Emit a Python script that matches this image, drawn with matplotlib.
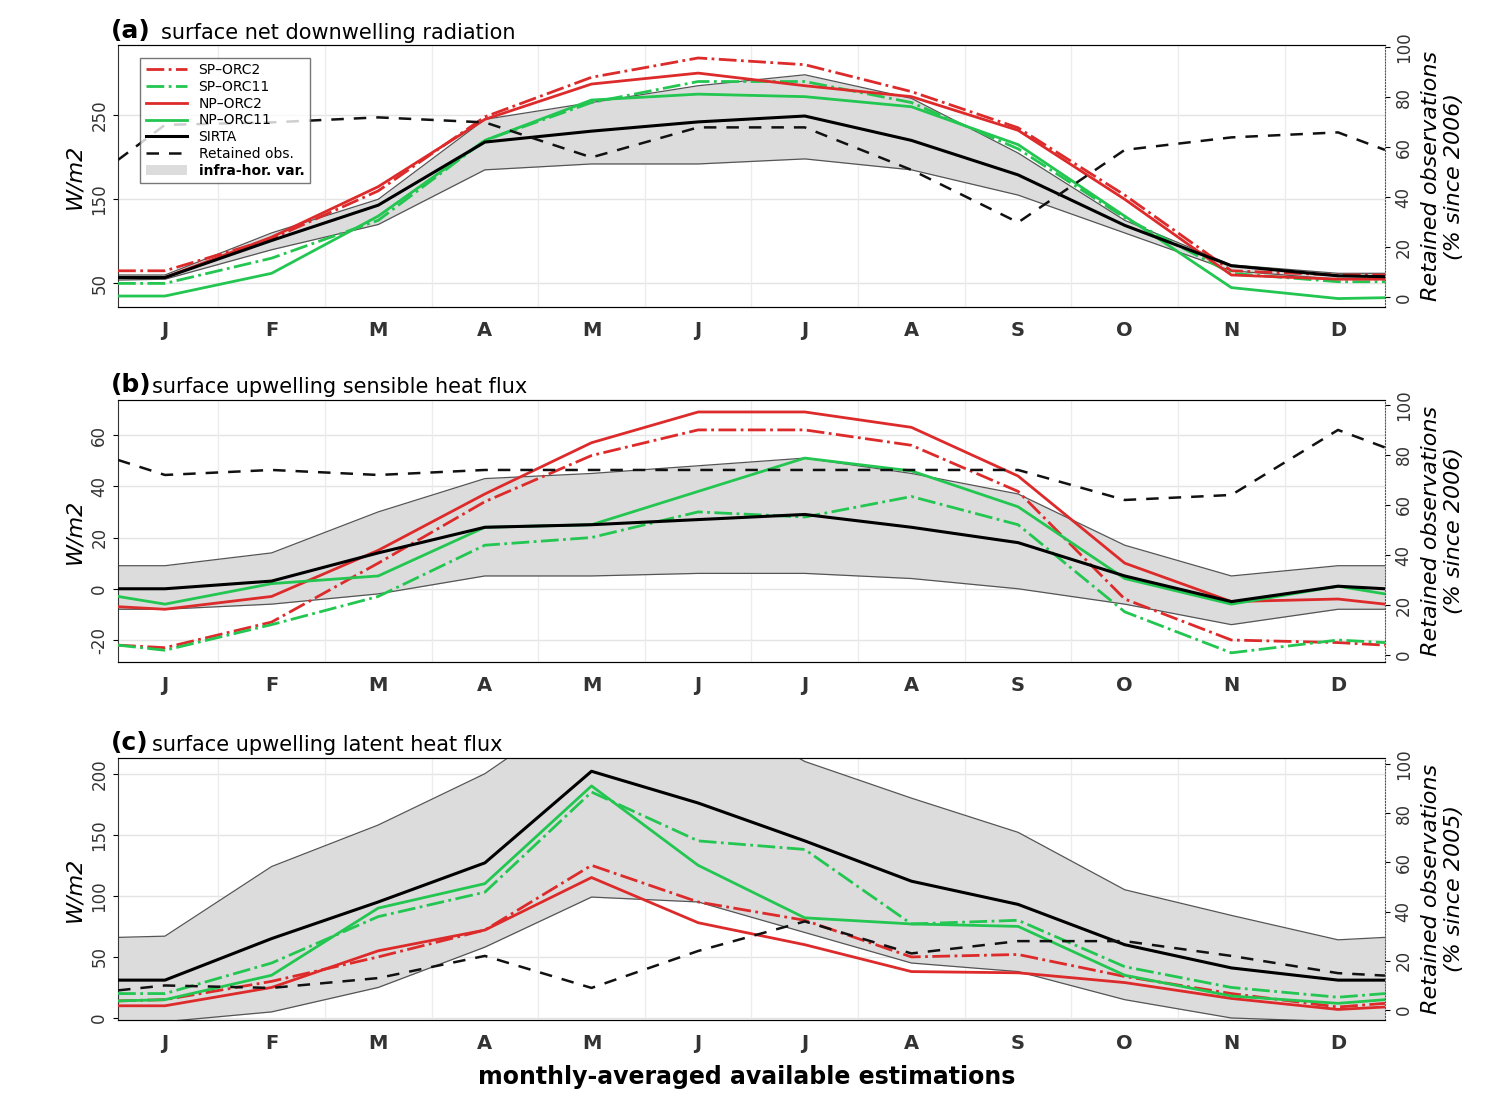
import numpy as np
import matplotlib.pyplot as plt

months = ['J', 'F', 'M', 'A', 'M', 'J', 'J', 'A', 'S', 'O', 'N', 'D']
# x of the points: the 12 months plus the two plot edges
xpos = [-0.44] + list(range(12)) + [11.44]

# (a) surface net downwelling radiation
a_sirta = [57, 57, 101, 143, 218, 231, 242, 249, 220, 179, 119, 71, 59, 58]
a_hi = [60, 60, 110, 150, 245, 265, 285, 298, 270, 205, 125, 72, 62, 62]
a_lo = [54, 55, 90, 120, 185, 192, 192, 198, 185, 155, 110, 65, 55, 55]
a_np2 = [57, 57, 105, 165, 245, 287, 300, 285, 272, 232, 150, 60, 55, 55]
a_sp2 = [65, 65, 103, 160, 248, 295, 318, 310, 278, 235, 155, 65, 60, 60]
a_np11 = [35, 35, 62, 130, 220, 268, 275, 272, 260, 215, 130, 45, 32, 33]
a_sp11 = [50, 50, 80, 125, 220, 265, 290, 290, 265, 210, 128, 62, 52, 52]
a_obs = [55, 69, 70, 72, 70, 56, 68, 68, 51, 30, 59, 64, 66, 59]

# (b) surface upwelling sensible heat flux
b_sirta = [0, 0, 3, 14, 24, 25, 27, 29, 24, 18, 5, -5, 1, 0]
b_hi = [9, 9, 14, 30, 43, 45, 48, 51, 45, 37, 17, 5, 9, 9]
b_lo = [-8, -8, -6, -2, 5, 5, 6, 6, 4, 0, -6, -14, -8, -8]
b_np2 = [-7, -8, -3, 15, 37, 57, 69, 69, 63, 44, 10, -5, -4, -6]
b_sp2 = [-22, -23, -13, 10, 34, 52, 62, 62, 56, 38, -4, -20, -21, -22]
b_np11 = [-3, -6, 2, 5, 24, 25, 38, 51, 46, 32, 4, -6, 1, -2]
b_sp11 = [-22, -24, -14, -3, 17, 20, 30, 28, 36, 25, -9, -25, -20, -21]
b_obs = [78, 72, 74, 72, 74, 74, 74, 74, 74, 74, 62, 64, 90, 83]

# (c) surface upwelling latent heat flux
c_sirta = [31, 31, 65, 95, 127, 202, 176, 145, 112, 93, 60, 41, 31, 31]
c_hi = [66, 67, 124, 158, 200, 260, 260, 210, 180, 152, 105, 84, 64, 66]
c_lo = [-5, -3, 5, 25, 58, 99, 95, 70, 45, 38, 15, 0, -3, -3]
c_np2 = [10, 10, 25, 55, 72, 115, 78, 60, 38, 37, 29, 16, 7, 9]
c_sp2 = [14, 15, 30, 50, 72, 125, 95, 80, 50, 52, 34, 20, 9, 12]
c_np11 = [14, 15, 35, 90, 110, 190, 125, 82, 77, 75, 35, 18, 12, 15]
c_sp11 = [20, 20, 45, 83, 103, 185, 145, 138, 77, 80, 42, 25, 17, 20]
c_obs = [8, 10, 9, 13, 22, 9, 24, 36, 23, 28, 28, 22, 15, 14]

red = '#dd2a2a'
green = '#22c650'

panels = [
    ('(a)', 'surface net downwelling radiation', a_sirta, a_hi, a_lo, a_np2, a_sp2, a_np11, a_sp11, a_obs,
     (21.4, 333), [50, 150, 250], (-4, 100.8), '2006', 0.722, 0.034),
    ('(b)', 'surface upwelling sensible heat flux', b_sirta, b_hi, b_lo, b_np2, b_sp2, b_np11, b_sp11, b_obs,
     (-28.6, 73.7), [-20, 0, 20, 40, 60], (-2.8, 102), '2006', 0.4014, 0.027),
    ('(c)', 'surface upwelling latent heat flux', c_sirta, c_hi, c_lo, c_np2, c_sp2, c_np11, c_sp11, c_obs,
     (-1.6, 213), [0, 50, 100, 150, 200], (-4, 102.4), '2005', 0.0778, 0.027),
]

fig = plt.figure(figsize=(14.94, 11.06), dpi=100)
for i, (tag, title, sirta, hi, lo, np2, sp2, np11, sp11, obs, ylim, yt, y2lim, yr, bot, tx) in enumerate(panels):
    ax = fig.add_axes([0.079, bot, 0.848, 0.237])
    ax.set_xlim(-0.44, 11.44)
    ax.set_ylim(*ylim)
    ax.set_yticks(yt)
    ax.set_yticklabels([str(v) for v in yt], rotation=90, va='center', fontsize=12, color='#333333')
    ax.set_xticks(range(12))
    ax.set_xticklabels(months, fontsize=14, fontweight='bold', color='#333333')
    ax.tick_params(axis='x', length=0, pad=10)
    for v in yt:
        ax.axhline(v, color='#e4e4e4', lw=1, zorder=0)
    for m in np.arange(0.5, 11, 1):
        ax.axvline(m, color='#ececec', lw=1, zorder=0)
    ax.fill_between(xpos, lo, hi, color='#dcdcdc', lw=0, zorder=1, label='infra-hor. var.')
    ax.plot(xpos, hi, color='#555555', lw=0.9, zorder=2)
    ax.plot(xpos, lo, color='#555555', lw=0.9, zorder=2)
    ax.plot(xpos, sp2, color=red, lw=2, ls='-.', zorder=4, label='SP\u2013ORC2')
    ax.plot(xpos, sp11, color=green, lw=2, ls='-.', zorder=4, label='SP\u2013ORC11')
    ax.plot(xpos, np2, color=red, lw=2, zorder=4, label='NP\u2013ORC2')
    ax.plot(xpos, np11, color=green, lw=2, zorder=4, label='NP\u2013ORC11')
    ax.plot(xpos, sirta, color='black', lw=2.2, zorder=5, label='SIRTA')
    ax.set_ylabel('W/m2', fontsize=16, style='italic')
    ax.spines['right'].set_visible(False)
    for s in ['left', 'top', 'bottom']:
        ax.spines[s].set_color('#333333')
    ax.text(-0.006, 1.01, tag, transform=ax.transAxes, fontsize=18, fontweight='bold', va='bottom')
    ax.text(tx, 1.01, title, transform=ax.transAxes, fontsize=15, va='bottom')

    ax2 = ax.twinx()
    ax2.set_ylim(*y2lim)
    ax2.plot(xpos, obs, color='#111111', lw=1.8, ls=(0, (5, 4)), zorder=3, label='Retained obs.')
    ax2.set_yticks([0, 20, 40, 60, 80, 100])
    ax2.set_yticklabels(['0', '20', '40', '60', '80', '100'], rotation=90, va='center', fontsize=12, color='#333333')
    ax2.spines['right'].set_linestyle(':')
    ax2.spines['right'].set_color('#555555')
    ax2.spines['left'].set_visible(False)
    ax2.set_ylabel('Retained observations\n(%% since %s)' % yr, fontsize=16, style='italic', labelpad=6)

    if i == 0:
        h1, l1 = ax.get_legend_handles_labels()
        h2, l2 = ax2.get_legend_handles_labels()
        order = [1, 2, 3, 4, 5]
        handles = [h1[k] for k in order] + h2 + [h1[0]]
        labels = [l1[k] for k in order] + l2 + [l1[0]]
        leg = ax2.legend(handles, labels, loc='upper left', bbox_to_anchor=(0.012, 0.98), fontsize=10,
                         frameon=True, fancybox=False, edgecolor='#555555', handlelength=3, labelspacing=0.2)
        leg.get_texts()[-1].set_fontweight('bold')
        leg.set_zorder(10)

fig.text(0.5, 0.02, 'monthly-averaged available estimations', ha='center', fontsize=17, fontweight='bold')
fig.savefig('out.png', dpi=100)
